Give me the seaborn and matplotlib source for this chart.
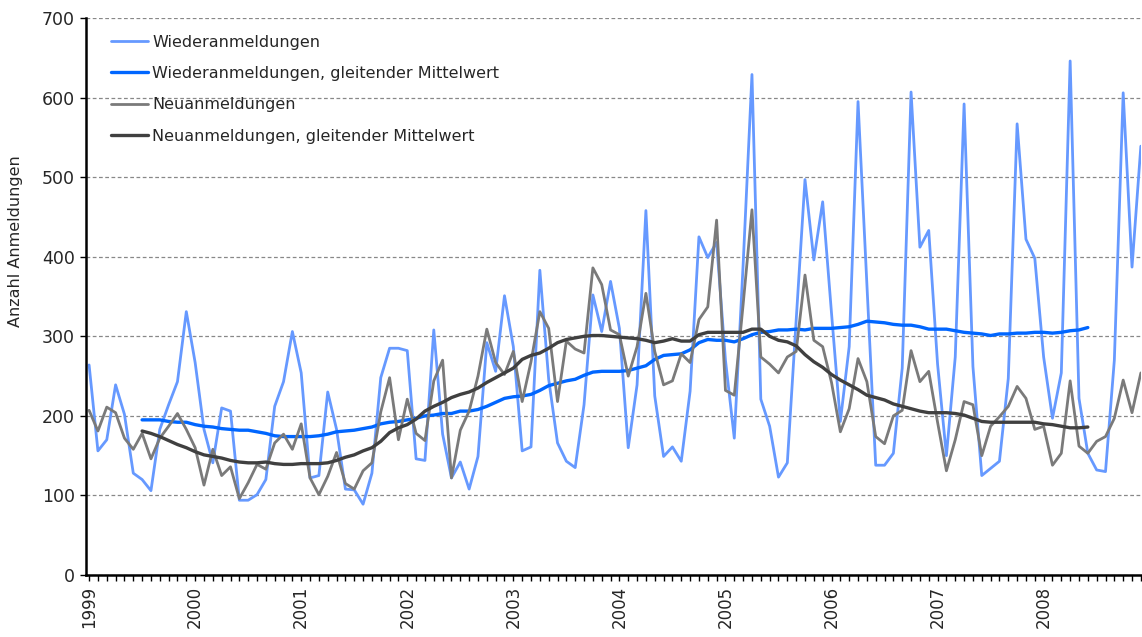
import numpy as np
import pandas as pd
import matplotlib
matplotlib.use("Agg")
import matplotlib.pyplot as plt
import seaborn as sns

# Monthly registrations, January 1999 .. December 2008
years = [str(y) for y in range(1999, 2009)]

wiederanmeldungen = [
    264, 156, 170, 239, 202, 128, 120, 106, 183, 214, 243, 331,
    267, 183, 141, 210, 206, 94, 94, 101, 120, 212, 243, 306,
    254, 122, 125, 230, 183, 108, 107, 89, 128, 248, 285, 285,
    282, 146, 144, 308, 177, 122, 142, 108, 149, 292, 256, 351,
    287, 156, 161, 383, 246, 166, 143, 135, 214, 352, 306, 369,
    310, 160, 239, 458, 225, 149, 161, 143, 231, 425, 399, 418,
    270, 172, 390, 629, 221, 187, 123, 141, 320, 497, 396, 469,
    329, 193, 287, 595, 366, 138, 138, 153, 260, 607, 412, 433,
    265, 150, 274, 592, 262, 125, 134, 143, 247, 567, 422, 398,
    274, 197, 254, 646, 222, 153, 132, 130, 270, 606, 387, 539,
]

neuanmeldungen = [
    207, 181, 211, 204, 172, 158, 178, 146, 172, 187, 203, 183,
    160, 113, 158, 125, 136, 96, 116, 139, 133, 166, 177, 158,
    190, 122, 101, 124, 154, 115, 108, 131, 141, 205, 248, 170,
    221, 178, 169, 244, 270, 122, 182, 206, 250, 309, 267, 252,
    281, 218, 268, 331, 310, 218, 294, 284, 279, 386, 365, 308,
    302, 250, 287, 354, 281, 239, 244, 278, 267, 321, 337, 446,
    232, 226, 340, 459, 274, 265, 254, 274, 281, 377, 295, 287,
    242, 180, 209, 272, 243, 174, 165, 200, 207, 282, 243, 256,
    192, 131, 170, 218, 214, 150, 187, 199, 212, 237, 222, 183,
    187, 138, 153, 244, 162, 153, 168, 174, 197, 245, 204, 254,
]

# 12-month moving averages, July 1999 .. June 2008
ma_start = 6
wiederanmeldungen_ma = [
    195, 195, 195, 193, 192, 192,
    189, 187, 186, 184, 183, 182, 182, 180, 178, 175, 174, 174,
    174, 174, 175, 177, 180, 181, 182, 184, 186, 190, 192, 193,
    195, 197, 200, 201, 203, 203, 206, 206, 208, 212, 217, 222,
    224, 225, 227, 232, 238, 241, 244, 246, 251, 255, 256, 256,
    256, 257, 260, 263, 271, 276, 277, 278, 283, 292, 296, 295,
    295, 293, 297, 302, 305, 306, 308, 308, 309, 308, 310, 310,
    310, 311, 312, 315, 319, 318, 317, 315, 314, 314, 312, 309,
    309, 309, 307, 305, 304, 303, 301, 303, 303, 304, 304, 305,
    305, 304, 305, 307, 308, 311,
]
neuanmeldungen_ma = [
    181, 178, 174, 169, 164, 160,
    155, 151, 149, 147, 144, 142, 141, 141, 142, 140, 139, 139,
    140, 140, 140, 141, 144, 148, 151, 156, 160, 168, 179, 185,
    189, 196, 206, 212, 217, 223, 227, 230, 235, 242, 248, 254,
    260, 271, 276, 279, 285, 292, 296, 298, 300, 301, 301, 300,
    299, 298, 297, 295, 292, 294, 297, 294, 294, 302, 305, 305,
    305, 305, 305, 309, 309, 300, 295, 293, 288, 277, 268, 261,
    252, 245, 239, 233, 226, 223, 220, 215, 212, 209, 206, 204,
    204, 204, 203, 201, 197, 193, 192, 192, 192, 192, 192, 192,
    190, 189, 187, 185, 185, 186,
]

months = np.arange(len(wiederanmeldungen))
ma_months = np.arange(ma_start, ma_start + len(wiederanmeldungen_ma))

sns.set_style("white")
plt.rcParams["font.family"] = ["DejaVu Sans"]

fig = plt.figure(figsize=(11.42, 6.37), dpi=100)
ax = fig.add_axes([0.0753, 0.0973, 0.9237, 0.8744])

series = [
    (months, wiederanmeldungen, "Wiederanmeldungen", "#6699FF", 2.0),
    (ma_months, wiederanmeldungen_ma, "Wiederanmeldungen, gleitender Mittelwert", "#0066FF", 2.4),
    (months, neuanmeldungen, "Neuanmeldungen", "#7A7A7A", 2.0),
    (ma_months, neuanmeldungen_ma, "Neuanmeldungen, gleitender Mittelwert", "#404040", 2.4),
]
for x, y, label, color, lw in series:
    sns.lineplot(x=x, y=y, ax=ax, color=color, linewidth=lw, label=label)

ax.set_xlim(-0.35, 118.8)
ax.set_ylim(0, 700)
ax.set_yticks(np.arange(0, 701, 100))
ax.yaxis.grid(True, linestyle=(0, (3, 2)), color="#888888", linewidth=0.9)
ax.xaxis.grid(False)

ax.set_xticks(np.arange(0, 120, 12))
ax.set_xticklabels(years, rotation=90)
ax.set_xticks(months, minor=True)
ax.tick_params(axis="x", which="both", direction="out", length=4, width=1,
               color="black", bottom=True, labelsize=12, pad=4)
ax.tick_params(axis="y", direction="out", length=4, width=1, color="black",
               left=True, labelsize=12.5, pad=4)

for side in ["top", "right"]:
    ax.spines[side].set_visible(False)
for side in ["left", "bottom"]:
    ax.spines[side].set_color("black")
    ax.spines[side].set_linewidth(1.8)

ax.set_xlabel("")
ax.set_ylabel("Anzahl Anmeldungen", fontsize=11.5)
ax.yaxis.set_label_coords(-0.060, 0.6)

leg = ax.legend(loc="upper left", frameon=False, fontsize=11.5,
                handlelength=2.3, handletextpad=0.3, labelspacing=1.02,
                bbox_to_anchor=(0.01, 0.996))

fig.savefig("out.png", dpi=100)
